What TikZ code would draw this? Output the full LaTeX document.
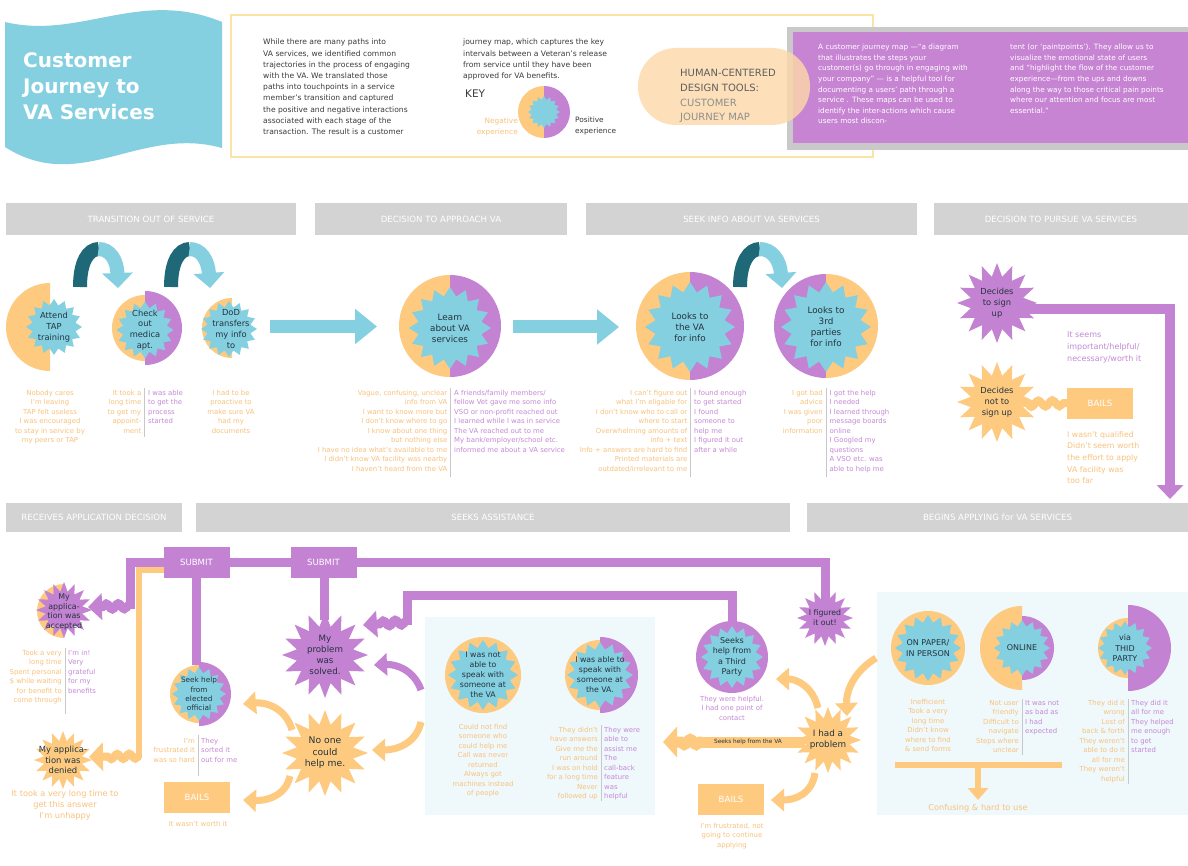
\documentclass[tikz,border=0pt]{standalone}
\usepackage{fontspec}
\setmainfont{DejaVu Sans}
\usetikzlibrary{shapes.geometric,arrows.meta,decorations.pathmorphing}
\definecolor{orng}{HTML}{FDCA80}
\definecolor{purp}{HTML}{C382D2}
\definecolor{tealc}{HTML}{84CFE0}
\definecolor{dteal}{HTML}{1E6877}
\definecolor{hdrg}{HTML}{D3D3D3}
\definecolor{panelc}{HTML}{EFF8FB}
\definecolor{otext}{HTML}{F8C27C}
\definecolor{ptext}{HTML}{C589D6}
\definecolor{dtext}{HTML}{24343D}
\definecolor{titlec}{HTML}{84D0E0}
\definecolor{boxp}{HTML}{C684D3}
\definecolor{boxg}{HTML}{C9C9C9}
\definecolor{introb}{HTML}{FBE3A6}
\definecolor{pillc}{HTML}{FDD9A8}
\definecolor{divc}{HTML}{C8C8C8}
\definecolor{bodyt}{HTML}{3A3A3A}
\definecolor{pilla}{HTML}{5E5E5E}
\definecolor{pillb}{HTML}{8E8E8E}
\newcommand\myfA{\fontsize{6.9}{9.5}\selectfont}
\newcommand\myfB{\fontsize{8.8}{11}\selectfont}
\newcommand\myfS{\fontsize{8.3}{10.8}\selectfont}
\newcommand\myfC{\fontsize{7.6}{11.2}\selectfont}
\newcommand\myfH{\fontsize{8.6}{10}\selectfont}
\newcommand\myfP{\fontsize{7.3}{10.6}\selectfont}
\newcommand\halfL[4]{\begin{scope}\clip (#1-#3-2,#2-#3-2) rectangle (#1,#2+#3+2);\fill[#4] (#1,#2) circle[radius=#3];\end{scope}}
\newcommand\halfR[4]{\begin{scope}\clip (#1,#2-#3-2) rectangle (#1+#3+2,#2+#3+2);\fill[#4] (#1,#2) circle[radius=#3];\end{scope}}
\begin{document}
\begin{tikzpicture}[x=1pt,y=-1pt,
 hdr/.style={fill=hdrg,text=white,font=\myfH,inner sep=0pt},
 burst/.style={star,star points=16,star point ratio=1.28,inner sep=0pt,fill=#1,draw=none},
 sburst/.style={star,star points=16,star point ratio=1.5,inner sep=0pt,fill=#1,draw=none},
 lbl/.style={inner sep=0pt,text=dtext,font=\myfB,align=center},
 notel/.style={inner sep=0pt,text=otext,font=\myfA,align=right,anchor=north east},
 noter/.style={inner sep=0pt,text=ptext,font=\myfA,align=left,anchor=north west},
 notec/.style={inner sep=0pt,text=otext,font=\myfA,align=center,anchor=north},
 notepc/.style={inner sep=0pt,text=ptext,font=\myfA,align=center,anchor=north},
 divd/.style={draw=divc,line width=0.8pt},
 bails/.style={fill=orng,text=white,font=\myfH,minimum width=66pt,minimum height=31pt,inner sep=0pt},
 submit/.style={fill=purp,text=white,font=\myfH,minimum width=66pt,minimum height=31pt,inner sep=0pt},
 band/.style={line width=9pt},
 wavy/.style={decorate,decoration={snake,amplitude=2.5pt,segment length=12pt,pre length=2pt,post length=13pt}},
 bigtip/.style={-{Triangle[width=#1,length=14pt]}},
 curv/.style={line width=7pt,-{Triangle[width=22pt,length=13pt]}}
]
\useasboundingbox (0,0) rectangle (1188,866);
\fill[white] (0,0) rectangle (1188,866);

% ---------- title banner ----------
\fill[titlec] (5,22) .. controls (80,40) and (140,-12) .. (222,22) -- (222,148) .. controls (140,125) and (80,195) .. (5,147) -- cycle;
\node[anchor=north west,inner sep=0pt,text=white,font=\bfseries\fontsize{20}{26}\selectfont,align=left] (title) at (23,52) {Customer\\Journey to\\VA Services};

% ---------- intro ----------
\draw[introb,line width=1.2pt] (231,15) rectangle (873,157);
\node[anchor=north west,inner sep=0pt,text=bodyt,font=\myfC,align=left] (para1) at (263,39) {While there are many paths into\\VA services, we identified common\\trajectories in the process of engaging\\with the VA. We translated those\\paths into touchpoints in a service\\member's transition and captured\\the positive and negative interactions\\associated with each stage of the\\transaction. The result is a customer};
\node[anchor=north west,inner sep=0pt,text=bodyt,font=\myfC,align=left] (para2) at (463,39) {journey map, which captures the key\\intervals between a Veteran's release\\from service until they have been\\approved for VA benefits.};
\node[anchor=north west,inner sep=0pt,text=bodyt,font=\fontsize{10.5}{12}\selectfont] (key) at (465,90) {KEY};
\halfL{544}{112}{26}{orng}\halfR{544}{112}{26}{purp}
\node[burst=tealc,minimum size=32pt] (keyS) at (544,112) {};
\node[notel,text=otext,font=\fontsize{7.4}{10.5}\selectfont] (neg) at (518,118) {Negative\\experience};
\node[noter,text=bodyt,font=\fontsize{7.4}{10.5}\selectfont] (pos) at (575,117) {Positive\\experience};

% ---------- purple box + pill ----------
\fill[boxg] (787,27) rectangle (1188,150);
\fill[boxp] (793,32) rectangle (1188,143);
\node[anchor=north west,inner sep=0pt,text=white,font=\myfP,align=left] (boxt1) at (818,44) {A customer journey map —“a diagram\\that illustrates the steps your\\customer(s) go through in engaging with\\your company” — is a helpful tool for\\documenting a users' path through a\\service . These maps can be used to\\identify the inter-actions which cause\\users most discon-};
\node[anchor=north west,inner sep=0pt,text=white,font=\myfP,align=left] (boxt2) at (1010,44) {tent (or ‘paintpoints’). They allow us to\\visualize the emotional state of users\\and “highlight the flow of the customer\\experience—from the ups and downs\\along the way to those critical pain points\\where our attention and focus are most\\essential.”};
\fill[pillc,opacity=0.8,rounded corners=38pt] (638,48) rectangle (810,125);
\node[anchor=north west,inner sep=0pt,font=\fontsize{10}{14.7}\selectfont,align=left] (pill) at (680,69) {\color{pilla}HUMAN-CENTERED\\\color{pilla}DESIGN TOOLS:\\\color{pillb}CUSTOMER\\\color{pillb}JOURNEY MAP};

% ---------- headers ----------
\node[hdr,minimum width=290pt,minimum height=32pt] (h1) at (151,219) {TRANSITION OUT OF SERVICE};
\node[hdr,minimum width=252pt,minimum height=32pt] (h2) at (441,219) {DECISION TO APPROACH VA};
\node[hdr,minimum width=331pt,minimum height=32pt] (h3) at (751.5,219) {SEEK INFO ABOUT VA SERVICES};
\node[hdr,minimum width=254pt,minimum height=32pt] (h4) at (1061,219) {DECISION TO PURSUE VA SERVICES};
\node[hdr,minimum width=176pt,minimum height=29pt] (h5) at (94,517.5) {RECEIVES APPLICATION DECISION};
\node[hdr,minimum width=594pt,minimum height=29pt] (h6) at (493,517.5) {SEEKS ASSISTANCE};
\node[hdr,minimum width=381pt,minimum height=29pt] (h7) at (997.5,517.5) {BEGINS APPLYING for VA SERVICES};

% ---------- row 1: loop arrows ----------
\draw[dteal,line width=14pt] (80,287) .. controls (80,262) and (88,249) .. (99,249);
\draw[tealc,line width=14pt,-{Triangle[width=30pt,length=15pt]}] (98.5,249) .. controls (110,249) and (117,260) .. (118,288);
\draw[dteal,line width=14pt] (171,287) .. controls (171,262) and (179,249) .. (190,249);
\draw[tealc,line width=14pt,-{Triangle[width=30pt,length=15pt]}] (189.5,249) .. controls (201,249) and (208,260) .. (210,288);
\draw[dteal,line width=14pt] (740,287) .. controls (740,262) and (749,249) .. (760,249);
\draw[tealc,line width=14pt,-{Triangle[width=30pt,length=15pt]}] (759.5,249) .. controls (772,249) and (780,260) .. (782,288);

% big arrows
\coordinate (a1s) at (270,326.5); \coordinate (a1e) at (377,326.5);
\coordinate (a2s) at (513,327); \coordinate (a2e) at (619,327);
\draw[tealc,line width=13pt,-{Triangle[width=34pt,length=22pt]}] (a1s) -- (a1e);
\draw[tealc,line width=13pt,-{Triangle[width=34pt,length=22pt]}] (a2s) -- (a2e);

% row 1 circles
\halfL{50}{327}{44}{orng}
\node[burst=tealc,minimum size=56pt] (attendS) at (54,327) {};
\node[lbl,font=\myfS] (attend) at (54,327) {Attend\\TAP\\training};

\halfL{145}{328}{33}{orng}\halfR{145}{328}{37}{purp}
\node[burst=tealc,minimum size=57pt] (checkS) at (145,330) {};
\node[lbl,font=\myfS] (check) at (145,330) {Check\\out\\medica\\apt.};

\halfL{232}{328}{30}{orng}
\node[burst=tealc,minimum size=56pt] (dodS) at (229,329) {};
\node[lbl,font=\myfS] (dod) at (231,329) {DoD\\transfers\\my info\\to};

\halfL{450}{326}{51}{orng}\halfR{450}{326}{51}{purp}
\node[burst=tealc,minimum size=82pt] (learnS) at (450,328) {};
\node[lbl] (learn) at (450,328) {Learn\\about VA\\services};

\halfL{690}{326}{54}{orng}\halfR{690}{326}{54}{purp}
\node[burst=tealc,minimum size=90pt] (lvaS) at (690,327) {};
\node[lbl] (lva) at (690,327) {Looks to\\the VA\\for info};

\halfL{826}{326}{52}{purp}\halfR{826}{326}{52}{orng}
\node[burst=tealc,minimum size=90pt] (l3S) at (826,327) {};
\node[lbl] (l3) at (826,327) {Looks to\\3rd\\parties\\for info};

% decision to pursue
\draw[purp,line width=10pt,-{Triangle[width=26pt,length=14pt]}] (997,309) -| (1170,499);
\draw[orng,line width=8pt,decorate,decoration={snake,amplitude=3pt,segment length=14pt}] (1020,404) -- (1068,403);
\node[sburst=purp,minimum size=80pt] (signS) at (997,303) {};
\node[lbl,font=\myfS] (sign) at (997,303) {Decides\\to sign\\up};
\node[sburst=orng,minimum size=80pt] (nosignS) at (997,402) {};
\node[lbl,font=\myfS] (nosign) at (997,402) {Decides\\not to\\sign up};
\node[bails] (bails0) at (1100,403) {BAILS};
\node[noter,font=\fontsize{8}{12}\selectfont] (seems) at (1067,331) {It seems\\important/helpful/\\necessary/worth it};
\node[anchor=north west,inner sep=0pt,text=otext,align=left,font=\fontsize{7.8}{11.7}\selectfont] (wasnt) at (1067,431) {I wasn't qualified\\Didn't seem worth\\the effort to apply\\VA facility was\\too far};

% row 1 notes
\node[notec] (n1) at (50,390) {Nobody cares\\I'm leaving\\TAP felt useless\\I was encouraged\\to stay in service by\\my peers or TAP};
\draw[divd] (144.5,388) -- (144.5,437);
\node[notel] (n2l) at (141.5,390) {It took a\\long time\\to get my\\appoint-\\ment};
\node[noter] (n2r) at (148,390) {I was able\\to get the\\process\\started};
\node[notec] (n3) at (231,390) {I had to be\\proactive to\\make sure VA\\had my\\documents};
\draw[divd] (450.5,388) -- (450.5,477);
\node[notel] (n4l) at (447.5,390) {Vague, confusing, unclear\\info from VA\\I want to know more but\\I don't know where to go\\I know about one thing\\but nothing else\\I have no idea what's available to me\\I didn't know VA facility was nearby\\I haven't heard from the VA};
\node[noter] (n4r) at (454,390) {A friends/family members/\\fellow Vet gave me some info\\VSO or non-profit reached out\\I learned while I was in service\\The VA reached out to me\\My bank/employer/school etc.\\informed me about a VA service};
\draw[divd] (690.5,388) -- (690.5,477);
\node[notel] (n5l) at (687.5,390) {I can't figure out\\what I'm eligable for\\I don't know who to call or\\where to start\\Overwhelming amounts of\\info + text\\Info + answers are hard to find\\Printed materials are\\outdated/irrelevant to me};
\node[noter] (n5r) at (694,390) {I found enough\\to get started\\I found\\someone to\\help me\\I figured it out\\after a while};
\draw[divd] (826,388) -- (826,477);
\node[notel] (n6l) at (823,390) {I got bad\\advice\\I was given\\poor\\information};
\node[noter] (n6r) at (829.5,390) {I got the help\\I needed\\I learned through\\message boards\\online\\I Googled my\\questions\\A VSO etc. was\\able to help me};

% ---------- row 2 ----------
\fill[panelc] (425,617) rectangle (655,815);
\fill[panelc] (877,592) rectangle (1188,815);

% bands
\draw[purp,band] (825,600) |- (130,562) -- (130,609);
\draw[purp,band,wavy,bigtip=26pt] (130,606) -- (88,607);
\draw[orng,line width=6pt] (164,570) -| (139,758);
\draw[orng,line width=8pt,wavy,bigtip=28pt] (141,756) -- (89,757);
\draw[purp,band] (196,570) -- (196,665);
\draw[purp,band] (324,570) -- (324,620);
\draw[purp,band] (732,625) |- (407,595) -- (407,625);
\draw[purp,band,wavy,bigtip=26pt] (407,622) -- (363,625);
\node[submit] (sub1) at (196.5,562.5) {SUBMIT};
\node[submit] (sub2) at (323.5,562.5) {SUBMIT};

% curved arrows
\draw[orng,curv] (292,730) .. controls (286,708) and (266,702) .. (243,704);
\draw[orng,curv] (290,776) .. controls (286,796) and (266,801) .. (243,800);
\draw[orng,curv] (421,722) .. controls (416,744) and (396,750) .. (372,750);
\draw[purp,curv] (421,690) .. controls (414,670) and (396,664) .. (374,665);
\draw[orng,curv] (818,708) .. controls (813,687) and (797,679) .. (776,679);
\draw[orng,curv] (815,773) .. controls (812,794) and (795,800) .. (771,800);
\draw[orng,curv] (876,658) .. controls (853,672) and (846,692) .. (847,716);

% seeks help from the VA
\draw[orng,line width=11pt] (805,742) -- (700,742);
\draw[orng,line width=11pt,wavy,bigtip=30pt] (702,742) -- (663,742);
\node[inner sep=0pt,text=dtext,font=\fontsize{5.8}{6}\selectfont] (vatxt) at (748,742) {Seeks help from the VA};

% bracket
\draw[orng,line width=6pt] (895,765) -- (1062,765);
\draw[orng,line width=6pt,-{Triangle[width=20pt,length=12pt]}] (978,765) -- (978,800);
\node[inner sep=0pt,text=otext,font=\fontsize{8.2}{9}\selectfont] (confuse) at (978,808) {Confusing \& hard to use};

% row 2 shapes
\halfL{64}{611}{27}{orng}
\node[sburst=purp,minimum size=56pt] (accS) at (64,610) {};
\node[lbl,font=\fontsize{7.9}{9.6}\selectfont] (acc) at (64,612) {My\\applica-\\tion was\\accepted};
\node[sburst=orng,minimum size=58pt] (denS) at (63,760) {};
\node[lbl,font=\fontsize{8.4}{10.5}\selectfont] (den) at (63,760) {My applica-\\tion was\\denied};

\halfL{199}{694}{29}{orng}\halfR{199}{694}{32}{purp}
\node[burst=tealc,minimum size=54pt] (eleS) at (199,694) {};
\node[lbl,font=\fontsize{7.3}{9.3}\selectfont] (ele) at (199,694) {Seek help\\from\\elected\\official};

\node[sburst=purp,minimum size=86pt] (solS) at (325,655) {};
\node[lbl,font=\fontsize{8.7}{11}\selectfont] (sol) at (325,655) {My\\problem\\was\\solved.};
\node[sburst=orng,minimum size=86pt] (noS) at (325,753) {};
\node[lbl,font=\fontsize{9.2}{11.5}\selectfont] (noone) at (325,753) {No one\\could\\help me.};

\fill[orng] (483,675) circle[radius=38];
\node[burst=tealc,minimum size=70pt] (naS) at (483,675) {};
\node[lbl,font=\fontsize{7.8}{10}\selectfont] (na) at (483,675) {I was not\\able to\\speak with\\someone at\\the VA};

\halfL{600}{675}{35}{orng}\halfR{600}{675}{38}{purp}
\node[burst=tealc,minimum size=66pt] (abS) at (600,675) {};
\node[lbl,font=\fontsize{7.8}{10}\selectfont] (ab) at (600,675) {I was able to\\speak with\\someone at\\the VA.};

\fill[purp] (732,657) circle[radius=36];
\node[burst=tealc,minimum size=62pt] (tpS) at (732,657) {};
\node[lbl,font=\fontsize{8}{10.5}\selectfont] (tp) at (732,657) {Seeks\\help from\\a Third\\Party};

\node[sburst=purp,minimum size=56pt] (figS) at (825,618) {};
\node[lbl,font=\fontsize{7.8}{10}\selectfont] (fig) at (825,618) {I figured\\it out!};
\node[sburst=orng,minimum size=66pt] (probS) at (828,740) {};
\node[lbl,font=\fontsize{8.8}{11}\selectfont] (prob) at (828,740) {I had a\\problem};

\fill[orng] (928,648) circle[radius=37];
\node[burst=tealc,minimum size=66pt] (papS) at (928,648) {};
\node[lbl,font=\fontsize{8}{10.5}\selectfont] (pap) at (928,648) {ON PAPER/\\IN PERSON};
\halfL{1022}{648}{42}{orng}\halfR{1022}{648}{32}{purp}
\node[burst=tealc,minimum size=56pt] (onS) at (1022,648) {};
\node[lbl,font=\fontsize{8}{10}\selectfont] (onl) at (1022,648) {ONLINE};
\halfL{1128}{648}{30}{orng}\halfR{1128}{648}{43}{purp}
\node[burst=tealc,minimum size=54pt] (thS) at (1125,648) {};
\node[lbl,font=\fontsize{8}{10.5}\selectfont] (thid) at (1125,648) {via\\THID\\PARTY};

\node[bails] (bails1) at (197,797) {BAILS};
\node[bails] (bails2) at (731,799) {BAILS};

% row 2 notes
\draw[divd] (65,648) -- (65,714);
\node[notel] (m1l) at (62,650) {Took a very\\long time\\Spent personal\\\$ while waiting\\for benefit to\\come through};
\node[noter] (m1r) at (68,650) {I'm in!\\Very\\grateful\\for my\\benefits};
\node[notec,font=\fontsize{8.2}{11}\selectfont] (m2) at (65,790) {It took a very long time to\\get this answer\\I'm unhappy};
\draw[divd] (198,735) -- (198,776);
\node[notel] (m3l) at (195,738) {I'm\\frustrated it\\was so hard};
\node[noter] (m3r) at (201,738) {They\\sorted it\\out for me};
\node[notec] (m4) at (198,821) {It wasn't worth it};
\node[notec] (m5) at (483,724) {Could not find\\someone who\\could help me\\Call was never\\returned\\Always got\\machines instead\\of people};
\draw[divd] (601,725) -- (601,801);
\node[notel] (m6l) at (598,727) {They didn't\\have answers\\Give me the\\run around\\I was on hold\\for a long time\\Never\\followed up};
\node[noter] (m6r) at (604,727) {They were\\able to\\assist me\\The\\call-back\\feature\\was\\helpful};
\node[notepc] (m7) at (732,696) {They were helpful.\\I had one point of\\contact};
\node[notec] (m8) at (732,823) {I'm frustrated, not\\going to continue\\applying};
\node[notec] (m9) at (928,699) {Inefficient\\Took a very\\long time\\Didn't know\\where to find\\\& send forms};
\draw[divd] (1022,699) -- (1022,755);
\node[notel] (m10l) at (1019,700) {Not user\\friendly\\Difficult to\\navigate\\Steps where\\unclear};
\node[noter] (m10r) at (1025,700) {It was not\\as bad as\\I had\\expected};
\draw[divd] (1128,699) -- (1128,784);
\node[notel] (m11l) at (1125,700) {They did it\\wrong\\Lost of\\back \& forth\\They weren't\\able to do it\\all for me\\They weren't\\helpful};
\node[noter] (m11r) at (1131,700) {They did it\\all for me\\They helped\\me enough\\to get\\started};
\end{tikzpicture}
\end{document}
